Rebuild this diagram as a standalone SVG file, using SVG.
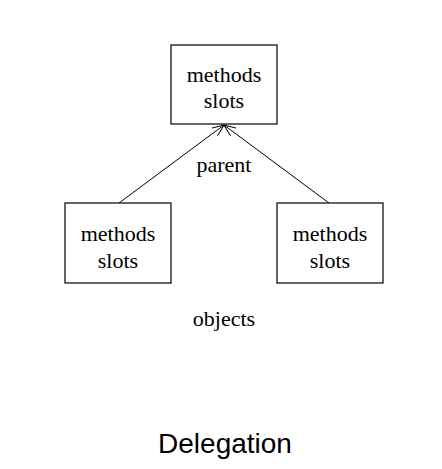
<svg xmlns="http://www.w3.org/2000/svg" width="442" height="469" viewBox="0 0 442 469">
<style>
.box{fill:#fff;stroke:#000;stroke-width:1.2}
.t{font-family:"Liberation Serif",serif;font-size:22px;text-anchor:middle;fill:#000}
.cap{font-family:"Liberation Sans",sans-serif;font-size:28px;text-anchor:middle;fill:#000}
.edge{stroke:#000;stroke-width:1;fill:none;marker-end:url(#ah)}
</style>
<defs>
<marker id="ah" viewBox="0 0 12 10" refX="12" refY="5" markerWidth="12" markerHeight="10" markerUnits="userSpaceOnUse" orient="auto">
<path d="M0,0 L12,5 L0,10" fill="none" stroke="#000" stroke-width="1"/>
</marker>
</defs>
<rect width="442" height="469" fill="#fff"/>
<g id="connectors">
<line class="edge" x1="119" y1="203" x2="224" y2="125"/>
<line class="edge" x1="329" y1="203" x2="224" y2="125"/>
</g>
<g id="parent-node">
<rect class="box" x="171" y="45" width="106" height="79"/>
<text class="t" x="224" y="82">methods</text>
<text class="t" x="224" y="108">slots</text>
</g>
<g id="left-node">
<rect class="box" x="65" y="203" width="106" height="80"/>
<text class="t" x="118" y="241">methods</text>
<text class="t" x="118" y="268">slots</text>
</g>
<g id="right-node">
<rect class="box" x="277" y="203" width="106" height="80"/>
<text class="t" x="330" y="241">methods</text>
<text class="t" x="330" y="268">slots</text>
</g>
<text class="t" x="224" y="172">parent</text>
<text class="t" x="224" y="326">objects</text>
<text class="cap" x="225" y="453">Delegation</text>
</svg>
